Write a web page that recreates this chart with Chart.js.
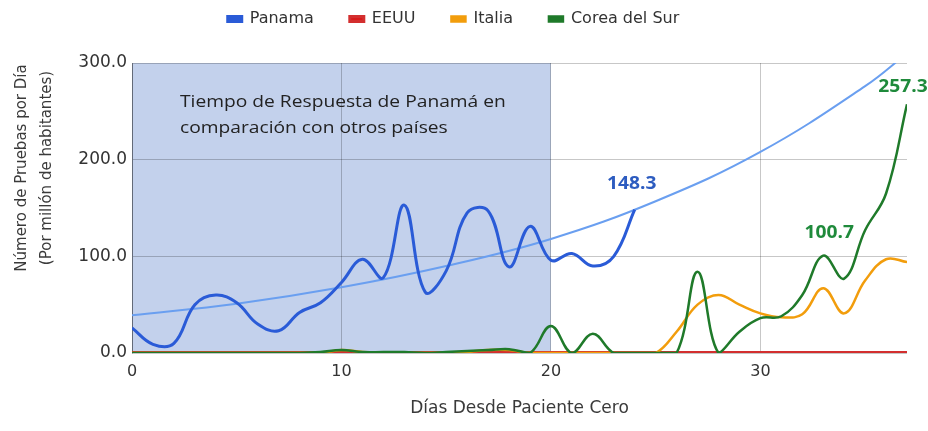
<!DOCTYPE html>
<html>
<head>
<meta charset="utf-8">
<script src="https://cdn.jsdelivr.net/npm/chart.js@4/dist/chart.umd.min.js"></script>
<style>
  html, body { margin: 0; background: #fff; }
  #wrap { width: 928px; height: 431px; }
</style>
</head>
<body>
<div id="wrap"><canvas id="grafico"></canvas></div>
<script>
// dias desde paciente cero
var dias = [0, 1, 2, 3, 4, 5, 6, 7, 8, 9, 10, 11, 12, 13, 14, 15, 16, 17, 18, 19,
  20, 21, 22, 23, 24, 25, 26, 27, 28, 29, 30, 31, 32, 33, 34, 35, 36, 37];

// pruebas por dia (por millon de habitantes)
var panama = [26, 9, 10, 50, 60, 52, 30, 23, 42, 52, 73, 97, 78, 153, 63, 85, 145, 147, 89, 131,
  96, 103, 90, 100, 148.3];
var eeuu = [0.5, 0.5, 0.5, 0.5, 0.5, 0.5, 0.5, 0.5, 0.5, 0.5, 0.5, 0.5, 0.5, 0.5, 0.5, 0.5, 0.5, 0.5, 0.5, 0.5,
  0.5, 0.5, 0.5, 0.5, 0.5, 0.5, 0.5, 0.5, 0.5, 0.5, 0.5, 0.5, 0.5, 0.5, 0.5, 0.5, 0.5, 0.5];
var italia = [0, 0, 0, 0, 0, 0, 0, 0, 0, 0, 3, 1, 0, 0, 0, 0, 1, 3, 3, 0,
  0, 0, 0, 0, 0, 0, 22, 50, 60, 50, 41, 37, 40, 67, 41, 75, 97, 94];
var corea = [0, 0, 0, 0, 0, 0, 0, 0, 0, 1, 3, 1, 1, 1, 0, 1, 2, 3, 4, 0,
  28, 0, 20, 0, 0, 0, 0, 84, 0, 22, 36, 38, 60, 100.7, 77, 127, 165, 257.3];

// linea de tendencia de Panama
var tendDias = [0, 5, 10, 15, 20, 25, 30, 35, 37];
var tendValores = [39, 51, 68, 90, 118, 157, 208, 276, 310];

var yTicks = [0, 100, 200, 300];
var xTicks = [0, 10, 20, 30];

// etiquetas sobre puntos: [dataset, indice, dx, dy, color]
var etiquetas = [
  [0, 24, -3, -25, "#2d5cc0"],
  [3, 33, 6, -23, "#1f8a3b"],
  [3, 37, -4, -17, "#1f8a3b"]
];

var estirar = 1.13; // la imagen original esta ensanchada

function puntos(xs, ys) {
  return ys.map(function (v, i) { return { x: xs[i], y: v }; });
}

var sombra = {
  id: "sombra",
  beforeDraw: function (chart) {
    var c = chart.ctx, a = chart.chartArea, x = chart.scales.x;
    c.save();
    c.fillStyle = "rgb(195,209,236)";
    c.fillRect(x.getPixelForValue(0), a.top, x.getPixelForValue(20) - x.getPixelForValue(0), a.bottom - a.top);
    c.restore();
  }
};

function textoAncho(c, t, x, y) {
  c.save();
  c.translate(x, y);
  c.scale(estirar, 1);
  c.fillText(t, 0, 0);
  c.restore();
}

var textos = {
  id: "textos",
  afterDraw: function (chart) {
    var c = chart.ctx;
    c.save();
    // anotacion
    c.fillStyle = "#222";
    c.font = "17px 'Open Sans'";
    c.textBaseline = "middle";
    c.textAlign = "left";
    textoAncho(c, "Tiempo de Respuesta de Panamá en", 180, 102);
    textoAncho(c, "comparación con otros países", 180, 128);
    // etiquetas de datos
    c.font = "bold 17px 'Open Sans'";
    c.textAlign = "center";
    etiquetas.forEach(function (e) {
      var p = chart.getDatasetMeta(e[0]).data[e[1]];
      c.fillStyle = e[4];
      textoAncho(c, String(chart.data.datasets[e[0]].data[e[1]].y), p.x + e[2], p.y + e[3]);
    });
    // titulo eje y
    c.fillStyle = "#3a3a3a";
    c.font = "15px 'DejaVu Sans'";
    c.translate(0, 168);
    c.rotate(-Math.PI / 2);
    c.fillText("Número de Pruebas por Día", 0, 22);
    c.fillText("(Por millón de habitantes)", 0, 47);
    c.restore();
  }
};

var margenLeyenda = {
  id: "margenLeyenda",
  beforeInit: function (chart) {
    var fit = chart.legend.fit;
    chart.legend.fit = function () {
      fit.bind(chart.legend)();
      this.height = 63;
    };
  },
  afterLayout: function (chart) {
    chart.legend.top -= 25;
    chart.legend.bottom -= 25;
  }
};

new Chart(document.getElementById("grafico"), {
  type: "line",
  data: {
    datasets: [
      { label: "Panama", data: puntos(dias, panama), borderColor: "#2a5bd7", backgroundColor: "#2a5bd7", borderWidth: 3, order: 0 },
      { label: "EEUU", data: puntos(dias, eeuu), borderColor: "#d32f2f", backgroundColor: "#d81b1b", borderWidth: 3, order: 5 },
      { label: "Italia", data: puntos(dias, italia), borderColor: "#f29d0c", backgroundColor: "#f29d0c", borderWidth: 2.5, order: 3 },
      { label: "Corea del Sur", data: puntos(dias, corea), borderColor: "#1f7a2a", backgroundColor: "#1f7a2a", borderWidth: 2.5, order: 2 },
      { label: "tendencia", data: puntos(tendDias, tendValores), borderColor: "#6a9ff0", backgroundColor: "#6a9ff0", borderWidth: 2, order: 1 }
    ]
  },
  options: {
    responsive: true,
    maintainAspectRatio: false,
    animation: false,
    layout: { padding: { left: 0, right: 21, top: 0, bottom: 0 } },
    elements: {
      point: { radius: 0 },
      line: { tension: 0.4 }
    },
    plugins: {
      tooltip: { enabled: false },
      legend: {
        position: "top",
        labels: {
          boxWidth: 14,
          boxHeight: 5,
          padding: 36,
          color: "#333",
          font: { family: "'DejaVu Sans'", size: 16 },
          filter: function (item) { return item.text !== "tendencia"; },
          sort: function (a, b) { return a.datasetIndex - b.datasetIndex; }
        }
      }
    },
    scales: {
      x: {
        type: "linear",
        min: 0,
        max: 37,
        afterFit: function (s) { s.height = 78; },
        afterBuildTicks: function (s) { s.ticks = xTicks.map(function (v) { return { value: v }; }); },
        grid: { color: "rgba(0,0,0,0.22)", drawTicks: false },
        border: { display: false },
        ticks: { padding: 9, color: "#333", font: { family: "'DejaVu Sans'", size: 16 } },
        title: { display: true, text: "Días Desde Paciente Cero", color: "#3a3a3a", font: { family: "'DejaVu Sans'", size: 17 }, padding: { top: 0, bottom: 12 } }
      },
      y: {
        min: 0,
        max: 300,
        afterFit: function (s) { s.width = 132; },
        afterBuildTicks: function (s) { s.ticks = yTicks.map(function (v) { return { value: v }; }); },
        grid: { color: "rgba(0,0,0,0.22)", drawTicks: false },
        border: { color: "rgba(0,0,0,0.35)" },
        ticks: {
          padding: 5,
          color: "#333",
          font: { family: "'DejaVu Sans'", size: 17 },
          callback: function (v) { return v.toFixed(1); }
        }
      }
    }
  },
  plugins: [sombra, textos, margenLeyenda]
});
</script>
</body>
</html>
